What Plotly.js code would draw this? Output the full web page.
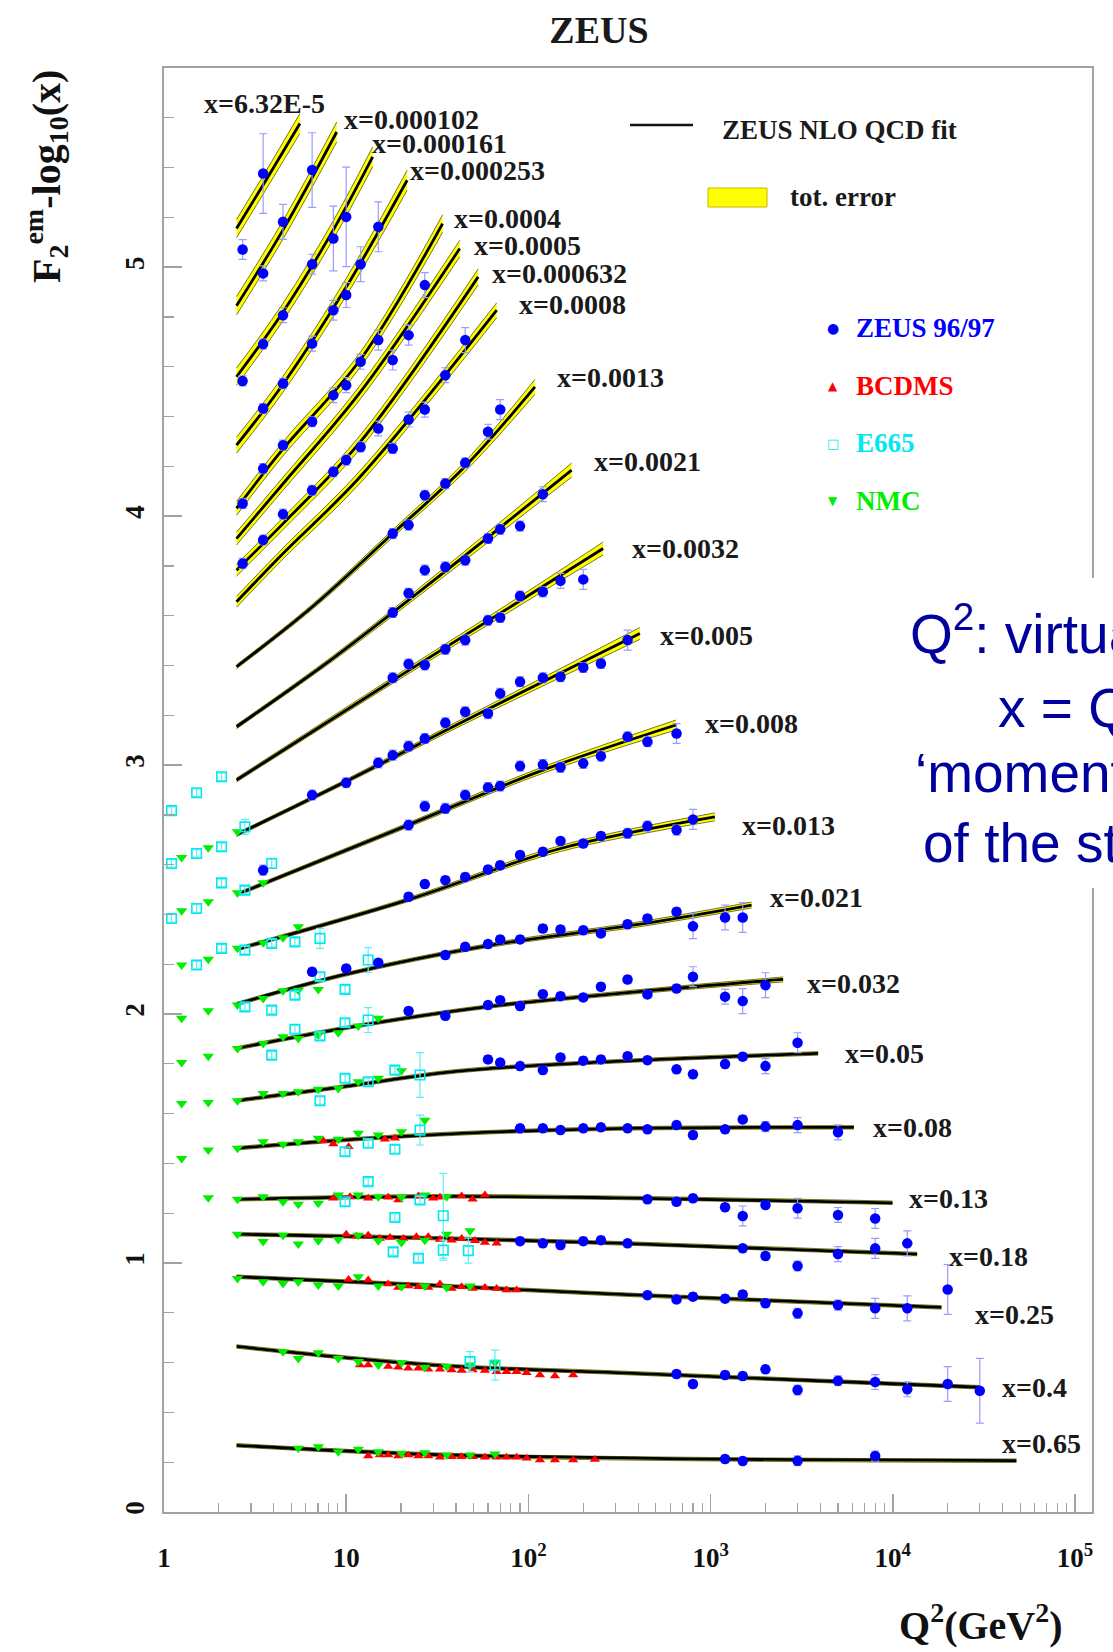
<!DOCTYPE html>
<html><head><meta charset="utf-8">
<script src="https://cdn.plot.ly/plotly-3.0.1.min.js"></script>
<style>html,body{margin:0;padding:0;background:#fff;overflow:hidden}#chart{width:1113px;height:1652px}</style>
</head><body><div id="chart"></div>
<script>
// ---------------- DATA ----------------
const binLabels = ["x=6.32E-5","x=0.000102","x=0.000161","x=0.000253","x=0.0004","x=0.0005","x=0.000632","x=0.0008",
  "x=0.0013","x=0.0021","x=0.0032","x=0.005","x=0.008","x=0.013","x=0.021","x=0.032","x=0.05","x=0.08",
  "x=0.13","x=0.18","x=0.25","x=0.4","x=0.65"];

// ZEUS NLO QCD fit: nodes (Q2) , central value, half-width of total error band
const fitQ2 = [
  [2.5,3.6,5.57],[2.5,4.5,8.87],[2.5,4.5,8.5,13.97],[2.5,4.5,10,21.6],[2.5,4.5,12,33.8],[2.5,4.5,12,42],
  [2.5,4.5,12,53],[2.5,4.5,12,67],[2.5,6.5,18,45,108.6],[2.5,8.5,30,172.6],[2.5,18,90,257],
  [2.5,10,40,150,409],[2.5,22,120,645],[2.5,22,150,1055],[2.5,10,60,400,1678],[2.5,10,60,400,2500],
  [2.5,10,40,300,3890],[2.5,10,40,300,6110],[2.5,30,300,9960],[2.5,30,300,13600],[2.5,30,300,18500],
  [2.5,10,40,300,30000],[2.5,10,50,1000,47700]];
const fitF = [
  [5.155,5.345,5.577],[4.845,5.15,5.543],[4.56,4.82,5.15,5.443],[4.285,4.53,4.92,5.349],[4.031,4.27,4.63,5.175],
  [3.91,4.13,4.50,5.075],[3.783,3.97,4.30,4.961],[3.656,3.85,4.16,4.827],[3.395,3.635,3.93,4.20,4.519],
  [3.154,3.43,3.74,4.185],[2.94,3.34,3.66,3.87],[2.72,2.935,3.16,3.37,3.529],[2.48,2.76,2.98,3.161],
  [2.26,2.46,2.665,2.792],[2.04,2.16,2.275,2.36,2.438],[1.862,1.945,2.03,2.09,2.139],[1.652,1.71,1.77,1.81,1.842],
  [1.461,1.495,1.52,1.54,1.545],[1.256,1.268,1.262,1.242],[1.116,1.10,1.08,1.036],[0.945,0.91,0.875,0.822],
  [0.665,0.62,0.585,0.56,0.501],[0.268,0.245,0.226,0.212,0.206]];
const fitErr = [
  [0.037,0.037,0.04],[0.037,0.037,0.04],[0.035,0.035,0.037,0.04],[0.032,0.032,0.035,0.04],[0.028,0.028,0.03,0.035],
  [0.026,0.026,0.028,0.033],[0.024,0.024,0.027,0.032],[0.022,0.022,0.025,0.03],[0.008,0.01,0.015,0.02,0.03],
  [0.008,0.01,0.016,0.028],[0.008,0.012,0.018,0.026],[0.007,0.008,0.012,0.018,0.024],[0.007,0.009,0.013,0.02],
  [0.007,0.008,0.012,0.016],[0.007,0.007,0.008,0.01,0.012],[0.007,0.007,0.007,0.008,0.01],[0.007,0.007,0.007,0.007,0.007],
  [0.007,0.007,0.007,0.007,0.007],[0.007,0.007,0.007,0.007],[0.007,0.007,0.007,0.007],[0.007,0.007,0.007,0.007],
  [0.007,0.007,0.007,0.007,0.007],[0.007,0.007,0.007,0.007,0.007]];

// ZEUS 96/97
const zeusQ2 = [2.7,3.5,4.5,6.5,8.5,10,15, 3.5,6.5,12,4.5,10,8.5,27, 3.5,6.5,22,15,12,18,45,35, 2.7,4.5,10,
  27,22,15,18,70,60,45,35,27,22,18, 120,90,70,60,45,35,27,150,200,22,
  3.5,8.5,6.5,4.5,12,3.5,10,8.5,2.7,6.5,4.5,3.5,2.7,
  18,60,70,45,35,27,22,18,90,120,
  350,250,200,150,120,90,70,60,45,35,27,22,18,15,10,6.5,
  350,450,250,200,150,120,90,70,60,45,650,22,27,35,3.5,350,450,650,800,
  22,27,35,45,60,70,90,120,150,200,250,
  6.5,10,15,35,45,60,70,90,120,150,200,250,350,450,650,800,1200,1500,
  22,35,60,70,90,120,150,200,250,350,450,650,800,1200,1500,2000,
  60,70,90,120,150,200,250,350,450,650,800,1200,1500,2000,3000,
  90,120,150,200,250,350,450,650,800,1200,1500,2000,3000,5000,
  450,650,800,1200,1500,2000,3000,5000,8000,
  90,120,150,200,250,350,1500,2000,3000,5000,8000,12000,
  450,650,800,1200,1500,2000,3000,5000,8000,12000,20000,
  650,800,1200,1500,2000,3000,5000,8000,12000,20000,30000,
  1200,1500,3000,8000];
const zeusF = [5.071,5.376,5.182,5.390,5.115,5.202,5.162, 4.975,5.012,5.012,4.807,4.888,4.827,4.928, 4.691,4.693,4.727,4.707,4.620,4.627,4.707,4.566, 4.543,4.533,4.526,
  4.428,4.388,4.352,4.272,4.428,4.339,4.214,4.131,4.084,3.964,3.930, 4.088,3.960,3.947,3.910,3.823,3.796,3.783,3.740,3.746,3.690,
  4.432,4.486,4.379,4.285,4.278,4.191,4.225,4.178,4.051,4.104,4.008,3.904,3.810,
  3.613,3.582,3.593,3.502,3.465,3.402,3.406,3.351,3.679,3.696,
  3.502,3.408,3.392,3.355,3.351,3.335,3.288,3.207,3.214,3.170,3.107,3.076,3.040,3.009,2.929,2.880,
  3.114,3.094,3.036,3.007,2.991,3.002,2.996,2.916,2.910,2.880,3.127,2.759,2.835,2.826,2.578,2.726,2.755,2.739,2.782,
  2.471,2.522,2.538,2.551,2.581,2.598,2.639,2.652,2.695,2.685,2.715,
  2.170,2.183,2.206,2.237,2.270,2.281,2.300,2.300,2.344,2.340,2.337,2.324,2.361,2.384,2.411,2.353,2.388,2.388,
  2.012,1.993,2.036,2.056,2.032,2.080,2.072,2.067,2.110,2.139,2.079,2.103,2.150,2.070,2.052,2.116,
  1.818,1.805,1.791,1.775,1.826,1.813,1.818,1.831,1.815,1.778,1.758,1.799,1.829,1.791,1.885,
  1.541,1.541,1.534,1.541,1.545,1.541,1.537,1.554,1.514,1.537,1.577,1.548,1.554,1.525,
  1.256,1.246,1.260,1.224,1.189,1.233,1.220,1.193,1.179,
  1.088,1.079,1.072,1.088,1.092,1.079,1.059,1.028,0.988,1.036,1.059,1.079,
  0.871,0.854,0.865,0.857,0.874,0.838,0.798,0.831,0.818,0.818,0.894,
  0.554,0.514,0.550,0.546,0.573,0.490,0.527,0.522,0.493,0.514,0.487,
  0.213,0.205,0.206,0.225];
const zeusErr = [0.04,0.16,0.07,0.15,0.13,0.2,0.1, 0.03,0.04,0.07,0.03,0.05,0.04,0.05, 0.02,0.03,0.04,0.04,0.03,0.04,0.05,0.03, 0.02,0.02,0.03,
  0.03,0.03,0.03,0.02,0.04,0.03,0.02,0.02,0.02,0.02,0.02, 0.03,0.02,0.02,0.02,0.02,0.02,0.02,0.03,0.04,0.02,
  0.02,0.03,0.02,0.02,0.02,0.02,0.02,0.02,0.02,0.02,0.02,0.02,0.02,
  0.02,0.02,0.02,0.02,0.02,0.02,0.02,0.02,0.02,0.02,
  0.04,0.02,0.02,0.02,0.02,0.02,0.02,0.02,0.02,0.02,0.02,0.02,0.02,0.02,0.02,0.02,
  0.02,0.02,0.02,0.02,0.02,0.02,0.02,0.02,0.02,0.02,0.04,0.02,0.02,0.02,0.02,0.02,0.02,0.02,0.04,
  0.015,0.015,0.015,0.015,0.015,0.015,0.015,0.015,0.015,0.015,0.015,
  0.015,0.015,0.015,0.015,0.015,0.015,0.015,0.015,0.015,0.015,0.015,0.015,0.015,0.015,0.015,0.05,0.05,0.06,
  0.015,0.015,0.015,0.015,0.015,0.015,0.015,0.015,0.015,0.015,0.015,0.015,0.04,0.03,0.05,0.05,
  0.015,0.015,0.015,0.015,0.015,0.015,0.015,0.015,0.015,0.015,0.015,0.015,0.015,0.03,0.04,
  0.015,0.015,0.015,0.015,0.015,0.015,0.015,0.015,0.015,0.015,0.015,0.02,0.03,0.03,
  0.015,0.015,0.015,0.015,0.04,0.015,0.04,0.03,0.04,
  0.015,0.015,0.015,0.015,0.015,0.015,0.015,0.015,0.02,0.03,0.04,0.05,
  0.015,0.015,0.015,0.015,0.015,0.015,0.02,0.02,0.04,0.05,0.1,
  0.015,0.015,0.015,0.015,0.015,0.02,0.02,0.03,0.03,0.07,0.13,
  0.015,0.015,0.02,0.02];

// BCDMS
const bcdmsQ2 = [7.49,8.5,10.3,16.3,18.5,
  8.5,10.5,13.2,17,19.3,24.9,30,32.7,43,49.4,57.7,
  10,11.4,13.2,15.3,17.4,20.6,24.3,28.2,32.7,37.9,43,50.9,57.7,66.9,
  10.3,13.2,17,19.3,21.9,24.9,28.2,32.7,37.9,43,49.4,57.7,66.9,75.9,86.1,
  11.9,13.2,17,19.3,21.9,24.9,28.2,32.7,37.9,43,49.4,57.7,66.9,75.9,86.1,97.7,115.7,139.8,176,
  13.2,15.3,17,19.3,21.9,24.9,28.2,32.7,37.9,43,49.4,57.7,66.9,75.9,86.1,97.7,115.7,139.8,176,231.6];
const bcdmsF = [1.491,1.478,1.467,1.497,1.501,
  1.260,1.266,1.260,1.264,1.253,1.269,1.260,1.264,1.269,1.256,1.273,
  1.116,1.108,1.112,1.099,1.103,1.099,1.106,1.106,1.095,1.092,1.099,1.090,1.082,1.079,
  0.934,0.932,0.916,0.902,0.908,0.905,0.902,0.916,0.898,0.905,0.898,0.902,0.898,0.892,0.892,
  0.590,0.590,0.584,0.581,0.577,0.577,0.573,0.573,0.570,0.568,0.570,0.568,0.563,0.563,0.563,0.559,0.550,0.546,0.550,
  0.225,0.229,0.229,0.225,0.229,0.225,0.225,0.220,0.222,0.222,0.222,0.220,0.220,0.220,0.220,0.216,0.209,0.209,0.209,0.211];

// E665
const e665Q2 = [1.10,1.51,2.07, 1.10,1.51,2.07,2.78, 1.10,1.51,2.07,2.78,3.90, 1.51,2.07,2.78,3.90,5.23,7.18,
  2.78,3.90,5.23,7.18,9.85,13.2, 3.90,5.23,7.18,9.85,13.2, 7.18,9.85,13.2,18.5,25.4, 9.85,13.2,18.5,25.4,
  9.85,13.2,18.5,25.4,34.1, 18.1,24.9,34.1,46.8, 47.8,65.5];
const e665F = [2.817,2.889,2.953, 2.605,2.645,2.672,2.752, 2.384,2.424,2.527,2.498,2.605, 2.197,2.264,2.257,2.284,2.290,2.304,
  2.029,2.016,2.076,2.150,2.099,2.217, 1.835,1.939,1.912,1.965,1.976, 1.652,1.742,1.728,1.775,1.755, 1.447,1.481,1.457,1.534,
  1.246,1.327,1.183,1.253,1.19, 1.045,1.019,1.052,1.050, 0.604,0.590];
const e665Err = [0.015,0.015,0.015, 0.015,0.015,0.015,0.03, 0.015,0.015,0.015,0.015,0.02, 0.015,0.015,0.015,0.015,0.015,0.04,
  0.015,0.015,0.015,0.015,0.015,0.05, 0.015,0.015,0.015,0.015,0.05, 0.015,0.015,0.015,0.015,0.09, 0.015,0.015,0.015,0.06,
  0.015,0.015,0.015,0.015,0.17, 0.015,0.015,0.04,0.05, 0.04,0.06];

// NMC
const nmcQ2 = [1.25,1.75,2.53, 1.25,1.75,2.53,3.5, 1.25,1.75,2.53,3.5,4.5,5.46, 1.25,1.75,2.53,3.5,4.5,5.46,7.03,
  1.25,1.75,2.53,3.5,4.5,5.46,7.03,9.05,11.65,15, 1.25,1.75,2.53,3.5,4.5,5.46,7.03,9.05,11.65,15,20.1,
  1.25,1.75,2.53,3.5,4.5,5.46,7.03,9.05,11.65,15,20.1,27, 1.75,2.53,3.5,4.5,5.46,7.03,9.05,11.65,15,20.1,27,35.6,
  2.53,3.5,4.5,5.46,7.03,9.05,11.65,15,20.1,27,35.6,47.8, 2.53,3.5,4.5,5.46,7.03,9.05,11.65,15,20.1,27,35.6,47.8,
  4.5,5.46,7.03,9.05,11.65,15,20.1,27,35.6,47.8,65.5, 5.46,7.03,9.05,11.65,15,20.1,27,35.6,47.8,65.5];
const nmcF = [2.629,2.668,2.732, 2.415,2.451,2.487,2.527, 2.197,2.220,2.264,2.286,2.307,2.351, 1.983,2.013,2.036,2.063,2.094,2.096,2.099,
  1.805,1.831,1.862,1.882,1.909,1.902,1.916,1.925,1.952,1.983, 1.641,1.645,1.652,1.681,1.681,1.688,1.698,1.701,1.728,1.742,1.772,
  1.420,1.454,1.461,1.487,1.477,1.487,1.501,1.497,1.521,1.514,1.527,1.574, 1.262,1.256,1.266,1.246,1.236,1.240,1.273,1.273,1.266,1.264,1.273,1.266,
  1.116,1.086,1.112,1.076,1.090,1.095,1.112,1.090,1.082,1.092,1.116,1.130, 0.938,0.925,0.918,0.925,0.912,0.908,0.945,0.908,0.905,0.908,0.902,0.908,
  0.644,0.617,0.640,0.617,0.604,0.590,0.599,0.581,0.584,0.590,0.599, 0.256,0.262,0.242,0.252,0.242,0.236,0.238,0.229,0.229,0.233];

const xTickVals = [1,10,100,1000,10000,100000];
const xTickText = ["1","10","10<sup>2</sup>","10<sup>3</sup>","10<sup>4</sup>","10<sup>5</sup>"];
const yTickVals = [0,1,2,3,4,5];
const legendNames = ["ZEUS NLO QCD fit","tot. error","ZEUS 96/97","BCDMS","E665","NMC"];

// ---------------- LAYOUT HELPERS ----------------
const W = 1113, H = 1652, L = 164, R = 1092, T = 68, B = 1512;
const PX = fx => (fx - L) / (R - L);
const PY = fy => (B - fy) / (B - T);
const serif = '"Liberation Serif","Times New Roman",serif';
const sans = '"Liberation Sans",Arial,sans-serif';

// label anchor positions in pixels (left edge, vertical centre)
const labelPos = [[202,103],[342,120],[370,143],[408,170],[452,218],[472,245],[490,274],[517,304],
  [555,377],[592,462],[630,548],[658,635],[703,723],[740,825],[768,897],[805,983],[843,1053],[871,1127],
  [907,1198],[947,1256],[973,1314],[1000,1387],[1000,1443]];

const traces = [];
for (let i = 0; i < fitQ2.length; i++) {
  const lo = fitF[i].map((f, j) => f - fitErr[i][j]);
  const hi = fitF[i].map((f, j) => f + fitErr[i][j]);
  traces.push({x: fitQ2[i], y: lo, mode: 'lines', line: {color: 'rgba(50,50,0,0.85)', width: 0.8, shape: 'spline'}, hoverinfo: 'skip'});
  traces.push({x: fitQ2[i], y: hi, mode: 'lines', fill: 'tonexty', fillcolor: '#ffff00', line: {color: 'rgba(50,50,0,0.85)', width: 0.8, shape: 'spline'}, hoverinfo: 'skip'});
  traces.push({x: fitQ2[i], y: fitF[i], mode: 'lines', line: {color: '#000', width: 2.8, shape: 'spline'}, name: legendNames[0]});
}
traces.push({x: bcdmsQ2, y: bcdmsF, mode: 'markers', name: legendNames[3], marker: {symbol: 'triangle-up', size: 9, color: '#ff0000'}});
traces.push({x: nmcQ2, y: nmcF, mode: 'markers', name: legendNames[5], marker: {symbol: 'triangle-down', size: 10, color: '#00ee00'}});
traces.push({x: e665Q2, y: e665F, mode: 'markers', name: legendNames[4],
  marker: {symbol: 'square-open', size: 9.5, color: '#00e8f0', line: {width: 1.6, color: '#00e8f0'}},
  error_y: {type: 'data', array: e665Err, color: '#60eef5', thickness: 1.2, width: 4}});
traces.push({x: zeusQ2, y: zeusF, mode: 'markers', name: legendNames[2], marker: {symbol: 'circle', size: 10.5, color: '#0000ff'},
  error_y: {type: 'data', array: zeusErr, color: '#9a9aff', thickness: 1.2, width: 4}});

const minorVals = [];
for (let k = 0; k < 5; k++) for (let d = 2; d <= 9; d++) minorVals.push(d * Math.pow(10, k));

const annotations = [];
binLabels.forEach((t, i) => annotations.push({text: t, xref: 'paper', yref: 'paper', x: PX(labelPos[i][0]), y: PY(labelPos[i][1]),
  xanchor: 'left', yanchor: 'middle', showarrow: false, font: {family: serif, size: 28, weight: 'bold', color: '#1a1a1a'}}));

// axis titles
annotations.push({text: 'F<sub>2</sub><sup>em</sup>-log<sub>10</sub>(x)', textangle: -90, xref: 'paper', yref: 'paper',
  x: PX(46), y: PY(177), xanchor: 'center', yanchor: 'middle', showarrow: false, font: {family: serif, size: 40, weight: 'bold', color: '#111'}});
annotations.push({text: 'Q<sup>2</sup>(GeV<sup>2</sup>)', xref: 'paper', yref: 'paper', x: PX(981), y: PY(1622),
  xanchor: 'center', yanchor: 'middle', showarrow: false, font: {family: serif, size: 40, weight: 'bold', color: '#111'}});

// legend texts
const legFont = (c) => ({family: serif, size: 27, weight: 'bold', color: c});
annotations.push({text: legendNames[0], xref: 'paper', yref: 'paper', x: PX(720), y: PY(130), xanchor: 'left', yanchor: 'middle', showarrow: false, font: legFont('#1a1a1a')});
annotations.push({text: legendNames[1], xref: 'paper', yref: 'paper', x: PX(788), y: PY(197), xanchor: 'left', yanchor: 'middle', showarrow: false, font: legFont('#1a1a1a')});
const legSyms = [['●', '#0000ff', 328, 14, legendNames[2]], ['▲', '#ff0000', 386, 12, legendNames[3]], ['□', '#00e8f0', 443, 13, legendNames[4]], ['▼', '#00ee00', 501, 12, legendNames[5]]];
legSyms.forEach(s => {
  annotations.push({text: s[0], xref: 'paper', yref: 'paper', x: PX(833), y: PY(s[2]), xanchor: 'center', yanchor: 'middle', showarrow: false, font: {family: '"DejaVu Sans"', size: s[3], color: s[1]}});
  annotations.push({text: s[4], xref: 'paper', yref: 'paper', x: PX(854), y: PY(s[2]), xanchor: 'left', yanchor: 'middle', showarrow: false, font: legFont(s[1])});
});

// overlay slide text (clipped at the right edge)
const slideLines = [['Q<sup>2</sup>: virtuality of the photon', 908, 630], ['x = Q<sup>2</sup>/2P·q', 996, 704], ['‘momentum fraction’', 913, 773], ['of the struck quark', 921, 843]];
slideLines.forEach(s => annotations.push({text: s[0], xref: 'paper', yref: 'paper', x: PX(s[1]), y: PY(s[2]), xanchor: 'left', yanchor: 'middle',
  showarrow: false, font: {family: sans, size: 55, color: '#00009c'}}));

const shapes = [
  {type: 'line', xref: 'paper', yref: 'paper', x0: PX(630), x1: PX(693), y0: PY(125), y1: PY(125), line: {color: '#111', width: 2.5}},
  {type: 'rect', xref: 'paper', yref: 'paper', x0: PX(708), x1: PX(767), y0: PY(207), y1: PY(188), fillcolor: '#ffff00', line: {color: '#c9b800', width: 1}},
  {type: 'rect', xref: 'paper', yref: 'paper', layer: 'above', x0: PX(895), x1: PX(1113), y0: PY(888), y1: PY(578), fillcolor: '#ffffff', line: {width: 0}}
];

const axisCommon = {showline: true, mirror: true, linecolor: '#a2a2a2', linewidth: 2, ticks: 'inside', tickcolor: '#a2a2a2', tickwidth: 1.5, ticklen: 18,
  showgrid: false, zeroline: false, automargin: false, tickfont: {family: serif, size: 27, weight: 'bold', color: '#111'}};

const layout = {
  width: W, height: H, margin: {l: L, r: W - R, t: T, b: H - B, pad: 0},
  paper_bgcolor: '#ffffff', plot_bgcolor: '#ffffff', showlegend: false,
  title: {text: 'ZEUS', font: {family: serif, size: 38, weight: 'bold', color: '#1a1a1a'}, x: 599 / W, xanchor: 'center', xref: 'container', y: 1 - 30 / H, yanchor: 'middle', yref: 'container'},
  xaxis: Object.assign({}, axisCommon, {type: 'log', range: [0, 5.093], tickmode: 'array', tickvals: xTickVals, ticktext: xTickText, ticklabelstandoff: 21,
    minor: {tickmode: 'array', tickvals: minorVals, ticks: 'inside', ticklen: 9, tickcolor: '#a2a2a2', tickwidth: 1.2, showgrid: false}}),
  yaxis: Object.assign({}, axisCommon, {range: [0, 5.8], tickmode: 'array', tickvals: yTickVals, tickangle: -90, ticklabelstandoff: 7,
    minor: {dtick: 0.2, tick0: 0, ticks: 'inside', ticklen: 10, tickcolor: '#a2a2a2', tickwidth: 1.2, showgrid: false}}),
  annotations: annotations, shapes: shapes
};

Plotly.newPlot('chart', traces, layout, {staticPlot: true, displayModeBar: false});
</script>
</body></html>
